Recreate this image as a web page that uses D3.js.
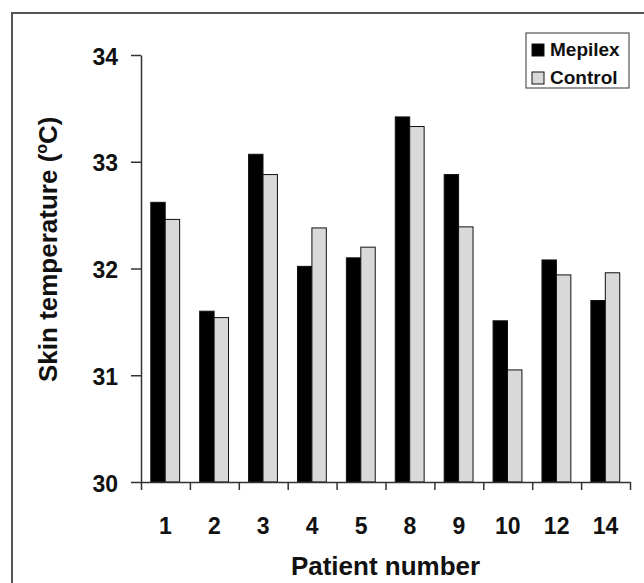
<!DOCTYPE html>
<html>

<head>
    <title>SkinTemperature</title>
    <script src="https://cdn.jsdelivr.net/npm/d3@7/dist/d3.min.js"></script>
</head>

<body style="margin: 0; background: #fff;">
    <svg width="644" height="583" id="mainsvg" font-family="'Liberation Sans', Arial, sans-serif" font-weight="bold"></svg>
    <script>
        // data
        const patients = ['1', '2', '3', '4', '5', '8', '9', '10', '12', '14'];
        const mepilex = [32.62, 31.60, 33.07, 32.02, 32.10, 33.42, 32.88, 31.51, 32.08, 31.70];
        const control = [32.46, 31.54, 32.88, 32.38, 32.20, 33.33, 32.39, 31.05, 31.94, 31.96];
        const seriesNames = ['Mepilex', 'Control'];
        const yTicks = [30, 31, 32, 33, 34];
        const xAxisLabel = 'Patient number';

        const svg = d3.select('#mainsvg');
        const width = +svg.attr('width');
        const height = +svg.attr('height');
        const margin = { top: 55, right: 14, bottom: 101, left: 141 };
        const innerWidth = width - margin.left - margin.right;
        const innerHeight = height - margin.top - margin.bottom;
        const fontFamily = "'Liberation Sans', Arial, sans-serif";

        // frame of the original figure (only top and left edges are visible)
        svg.append('line').attr('x1', 12).attr('y1', 13).attr('x2', 12).attr('y2', height)
            .attr('stroke', '#555').attr('stroke-width', 2);
        svg.append('line').attr('x1', 11).attr('y1', 13).attr('x2', width).attr('y2', 13)
            .attr('stroke', '#555').attr('stroke-width', 2);

        const g = svg.append('g').attr('id', 'maingroup')
            .attr('transform', `translate(${margin.left}, ${margin.top})`);

        const data = patients.map((p, i) => ({ patient: p, Mepilex: mepilex[i], Control: control[i] }));

        const xScale = d3.scaleBand().domain(patients).range([0, innerWidth]);
        const xInner = d3.scaleBand().domain(seriesNames)
            .range([xScale.bandwidth() * 0.2, xScale.bandwidth() * 0.79]);
        const yScale = d3.scaleLinear().domain([30, 34]).range([innerHeight, 0]);
        const color = d3.scaleOrdinal().domain(seriesNames).range(['#000000', '#d9d9d9']);

        // bars
        g.selectAll('.datagroup').data(data).join('g')
            .attr('class', 'datagroup')
            .attr('transform', d => `translate(${xScale(d.patient)}, 0)`)
            .selectAll('.datarect').data(d => seriesNames.map(s => ({ key: s, value: d[s] }))).join('rect')
            .attr('class', 'datarect')
            .attr('x', d => xInner(d.key))
            .attr('y', d => yScale(d.value))
            .attr('width', xInner.bandwidth())
            .attr('height', d => yScale(30) - yScale(d.value))
            .attr('fill', d => color(d.key))
            .attr('stroke', '#111')
            .attr('stroke-width', 1);

        // y axis
        const yAxis = d3.axisLeft(yScale)
            .tickValues(yTicks)
            .tickFormat(d3.format('d'))
            .tickSize(10)
            .tickSizeOuter(0)
            .tickPadding(13);
        const yAxisGroup = g.append('g').call(yAxis).attr('id', 'yaxis')
            .attr('font-family', fontFamily).attr('font-size', 23);
        yAxisGroup.selectAll('path, line').attr('stroke', '#333').attr('stroke-width', 1.5);
        yAxisGroup.selectAll('text')
            .attr('fill', '#111')
            .attr('dy', '0.4em');

        // x axis: ticks sit on category boundaries
        const xEdge = d3.scaleLinear().domain([0, patients.length]).range([0, innerWidth]);
        const xTickAxis = d3.axisBottom(xEdge)
            .tickValues(d3.range(patients.length + 1))
            .tickFormat('')
            .tickSize(8)
            .tickSizeOuter(0);
        const xAxisGroup = g.append('g').call(xTickAxis)
            .attr('transform', `translate(0, ${innerHeight})`)
            .attr('id', 'xaxis');
        xAxisGroup.selectAll('path, line').attr('stroke', '#333').attr('stroke-width', 1.5);
        xAxisGroup.selectAll('text').remove();

        // category labels in the band centres
        g.selectAll('.xlabel').data(patients).join('text')
            .attr('class', 'xlabel')
            .attr('x', d => xScale(d) + xScale.bandwidth() / 2)
            .attr('y', innerHeight + 52)
            .attr('text-anchor', 'middle')
            .attr('font-size', 23)
            .attr('fill', '#111')
            .text(d => d);

        g.append('text')
            .attr('x', innerWidth / 2)
            .attr('y', innerHeight + 93)
            .attr('text-anchor', 'middle')
            .attr('font-size', 26)
            .attr('fill', '#111')
            .text(xAxisLabel);

        // y axis title with superscript o
        const yTitle = svg.append('text')
            .attr('transform', 'translate(57, 382) rotate(-90)')
            .attr('font-size', 26)
            .attr('fill', '#111');
        yTitle.append('tspan').text('Skin temperature (');
        yTitle.append('tspan').attr('font-size', 16).attr('dy', -10).text('o');
        yTitle.append('tspan').attr('dy', 10).text('C)');

        // legend
        const lg = svg.append('g').attr('id', 'legend').attr('transform', 'translate(526, 33)');
        lg.append('rect')
            .attr('width', 103)
            .attr('height', 55)
            .attr('fill', '#fff')
            .attr('stroke', '#555')
            .attr('stroke-width', 1.2);
        lg.selectAll('.legendrect').data(seriesNames).join('rect')
            .attr('class', 'legendrect')
            .attr('x', 6)
            .attr('y', (d, i) => 11 + i * 28)
            .attr('width', 12)
            .attr('height', 12)
            .attr('fill', d => color(d))
            .attr('stroke', '#111');
        lg.selectAll('.legendtext').data(seriesNames).join('text')
            .attr('class', 'legendtext')
            .attr('x', 24)
            .attr('y', (d, i) => 23 + i * 28)
            .attr('font-size', 19)
            .attr('fill', '#111')
            .text(d => d);
    </script>
</body>

</html>
